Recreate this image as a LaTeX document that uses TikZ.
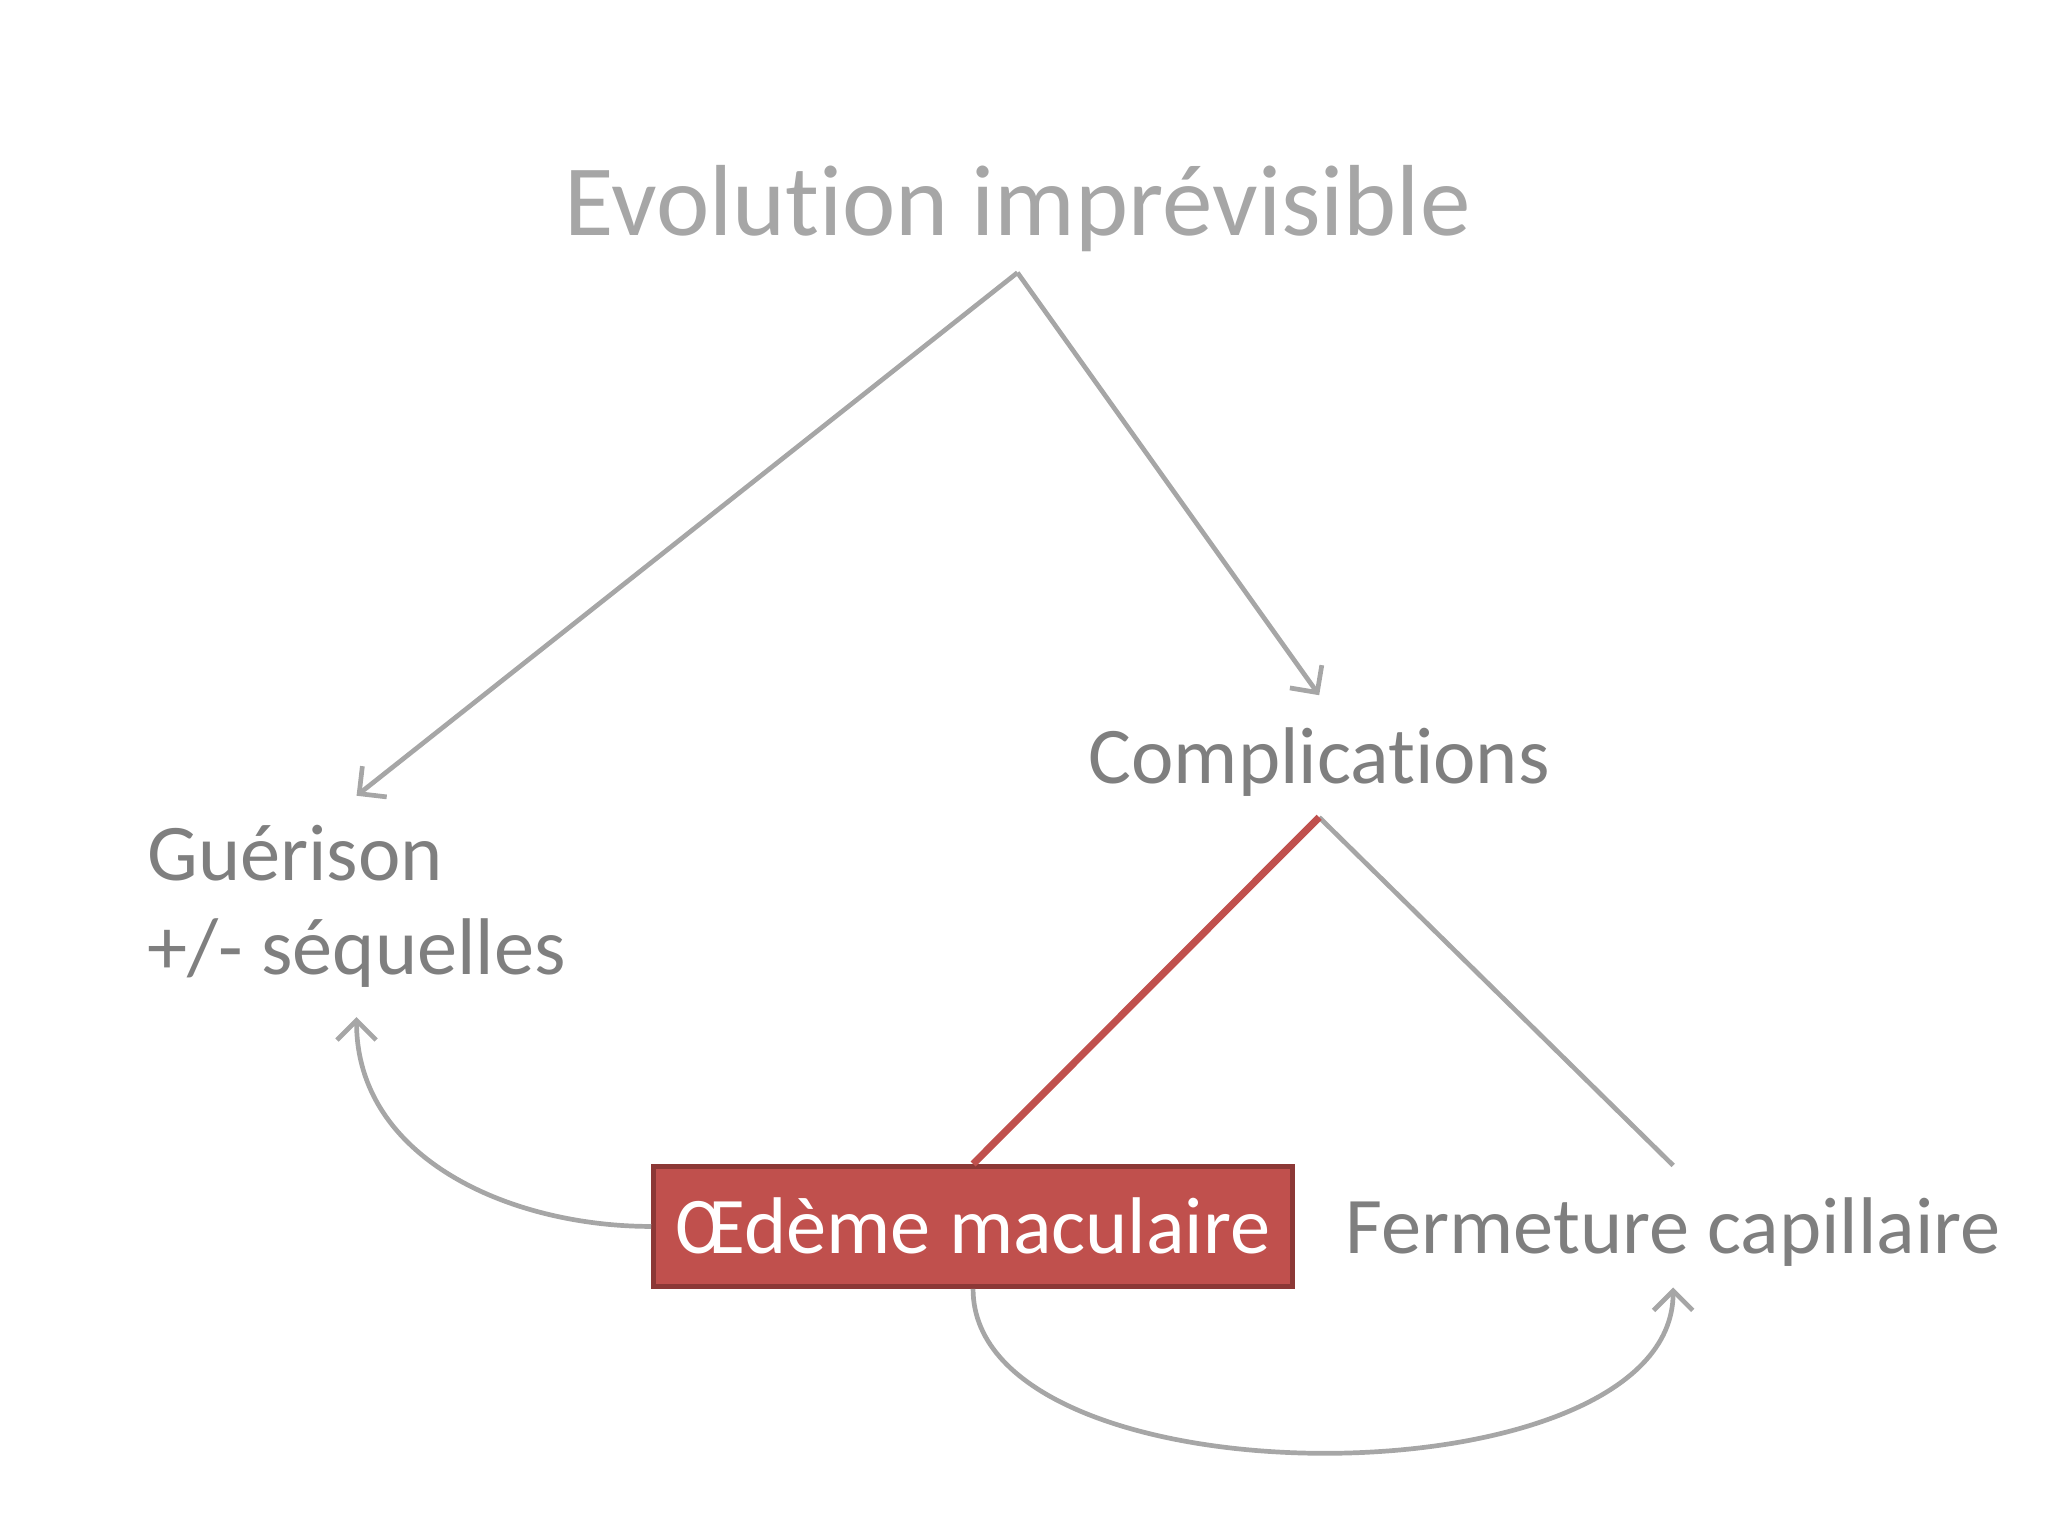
\documentclass[tikz,border=0pt]{standalone}
\usepackage{fontspec}
\setmainfont{Carlito}[Ligatures=NoCommon]
\usepackage{xcolor}
\usepackage{tikz}
\usetikzlibrary{positioning, arrows.meta}

\definecolor{lightgraytext}{HTML}{A6A6A6}
\definecolor{darkgraytext}{HTML}{7F7F7F}
\definecolor{linegray}{HTML}{A6A6A6}
\definecolor{redfill}{HTML}{C0504D}
\definecolor{redborder}{HTML}{8C3836}

\begin{document}
\begin{tikzpicture}[x=0.01cm,y=-0.01cm,
                    >={Straight Barb[length=0.15cm,width=0.3cm]},
                    main node/.style={inner sep=0pt,font=\fontsize{17.5}{20.5}\selectfont,text=darkgraytext},
                    one line/.style={main node,text height=0.67cm,text depth=0.25cm},
                    link/.style={draw=linegray,line width=0.036cm}]

 \useasboundingbox (0,0) rectangle (1568,1176);

 \node[main node,font=\fontsize{22}{26}\selectfont,text=lightgraytext,text height=0.8cm,text depth=0.28cm] (1) at (779,154) {Evolution imprévisible};

 \node[main node,align=left,minimum height=1.68cm] (2) at (273,694) {Guérison\\+/- séquelles};

 \node[one line] (3) at (1010,579) {Complications};

 \node[one line,fill=redfill,draw=redborder,line width=0.035cm,text=white,minimum width=4.89cm] (4) at (745,939) {Œdème maculaire};

 \node[one line] (5) at (1281,939) {Fermeture capillaire};



  \path[link]
    (1.south) edge[->] (2.north)
    (1.south) edge[->] (3.north)
    (3.south) edge (5.north)
    (4.west) edge[->,out=180,in=-90] (2.south)
    (4.south) edge[->,out=-90,in=-90,looseness=0.8] (5.south);

  \draw[redfill,line width=0.055cm] (3.south) -- (4.north);

\end{tikzpicture}
\end{document}
